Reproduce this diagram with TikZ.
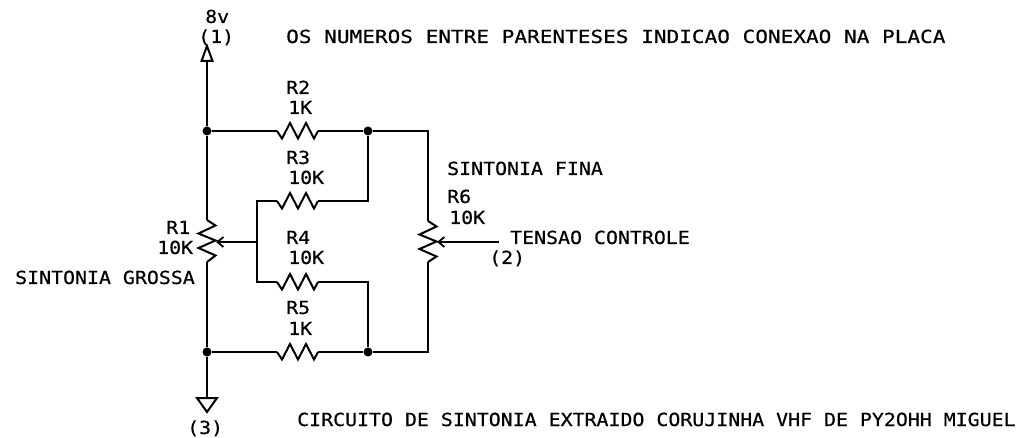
\documentclass[tikz,border=0pt]{standalone}
\usepackage{fontspec}
\newfontfamily\schfont[FakeStretch=1.105,FakeBold=0.5]{DejaVu Sans Mono}
\newfontfamily\widefont[FakeStretch=1.17,FakeBold=0.5]{DejaVu Sans Mono}
\usetikzlibrary{arrows.meta}
\tikzset{
lbl/.style={inner sep=0pt,anchor=base west,font=\schfont\fontsize{18}{18}\selectfont},
widelbl/.style={lbl,font=\widefont\fontsize{18}{18}\selectfont},
wire/.style={line width=2pt,line join=miter},
dot/.style={circle,fill=black,draw=none,minimum size=9pt,inner sep=0pt},
tap/.style={wire,-{Straight Barb[length=6pt,width=10pt,line width=1.8pt]}}
}

\begin{document}
\begin{tikzpicture}[x=1pt,y=-1pt]
\useasboundingbox (0,0) rectangle (1023,438);

% junctions and ends
\coordinate (top) at (207,61);
\node[dot] (n1) at (207,131) {};
\node[dot] (n2) at (368,131) {};
\node[dot] (n3) at (207,352) {};
\node[dot] (n4) at (368,352) {};
\coordinate (gnd) at (207,398);
\coordinate (c1) at (428,131);
\coordinate (c2) at (428,352);
\coordinate (c3) at (257,201);
\coordinate (c4) at (257,282);
\coordinate (c5) at (368,201);
\coordinate (c6) at (368,282);

% the horizontal resistors
\foreach \name/\ypos in {R2/131,R3/201,R4/282,R5/352} {
  \coordinate (\name a) at (277,\ypos);
  \coordinate (\name b) at (318,\ypos);
  \draw[wire] (\name a) -- ++(5,7.5) -- ++(8,-15.5) -- ++(8,15.5) -- ++(8,-15.5) -- ++(8,15.5) -- (\name b);
}

% the two pots
\coordinate (R1a) at (207,220);
\coordinate (R1b) at (207,262);
\coordinate (R1w) at (216,242);
\coordinate (R6a) at (428,221);
\coordinate (R6b) at (428,262);
\coordinate (R6w) at (437,242);
\coordinate (j1) at (257,242);
\coordinate (in) at (499,242);
\foreach \name in {R1,R6}
  \draw[wire] (\name a) -- ++(8.5,5.5) -- ++(-17,8) -- ++(17,7) -- ++(-17,7.5) -- ++(17,7.5) -- (\name b);

% the wires
\draw[wire] (top) -- (n1) -- (R1a);
\draw[wire] (R1b) -- (n3) -- (gnd);
\draw[wire] (n1) -- (R2a);
\draw[wire] (R2b) -- (n2) -- (c1) -- (R6a);
\draw[wire] (R6b) -- (c2) -- (n4) -- (R5b);
\draw[wire] (R5a) -- (n3);
\draw[wire] (n2) -- (c5) -- (R3b);
\draw[wire] (R3a) -- (c3) -- (c4) -- (R4a);
\draw[wire] (R4b) -- (c6) -- (n4);
\draw[tap] (j1) -- (R1w);
\draw[tap] (in) -- (R6w);

% supply and ground
\draw[wire] (top) -- ++(-5.5,0) -- (207,46) -- (212.5,61) -- cycle;
\draw[wire] (gnd) -- ++(-10,0) -- (207,412) -- (217,398) -- cycle;

% labels
\node[lbl] (t1) at (205,23) {8v};
\node[lbl] (t2) at (198,43) {(1)};
\node[widelbl] (t3) at (286,43) {OS NUMEROS ENTRE PARENTESES INDICAO CONEXAO NA PLACA};
\node[lbl] (t4) at (286,94) {R2};
\node[lbl] (t5) at (288,114) {1K};
\node[lbl] (t6) at (286,164) {R3};
\node[lbl] (t7) at (288,184) {10K};
\node[lbl] (t8) at (286,244) {R4};
\node[lbl] (t9) at (288,264) {10K};
\node[lbl] (t10) at (286,314) {R5};
\node[lbl] (t11) at (288,335) {1K};
\node[lbl] (t12) at (166,234) {R1};
\node[lbl] (t13) at (157,254) {10K};
\node[lbl] (t14) at (15,284) {SINTONIA GROSSA};
\node[lbl] (t15) at (447,175) {SINTONIA FINA};
\node[lbl] (t16) at (447,203) {R6};
\node[lbl] (t17) at (449,224) {10K};
\node[lbl] (t18) at (510,244) {TENSAO CONTROLE};
\node[lbl] (t19) at (489,264) {(2)};
\node[lbl] (t20) at (187,434) {(3)};
\node[lbl] (t21) at (297,426) {CIRCUITO DE SINTONIA EXTRAIDO CORUJINHA VHF DE PY2OHH MIGUEL};

\end{tikzpicture}
\end{document}
